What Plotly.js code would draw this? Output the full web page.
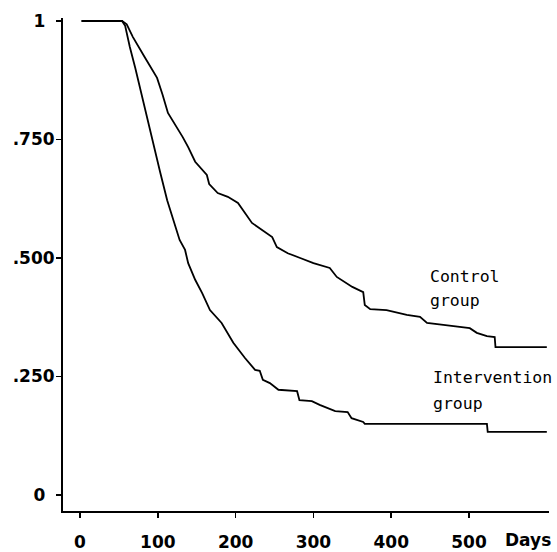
<!DOCTYPE html>
<html>
<head>
<meta charset="utf-8">
<script src="https://cdn.plot.ly/plotly-3.0.1.min.js"></script>
<style>html,body{margin:0;padding:0;background:#fff;}#chart{width:557px;height:552px;}</style>
</head>
<body>
<div id="chart"></div>
<script>
// Kaplan-Meier style curves (days, proportion)
var controlDays = [2, 54, 60, 68, 83, 99, 106, 113, 132, 139, 148, 163, 166, 177, 190, 203, 221, 240, 247, 253, 267, 283, 300, 321, 330, 350, 364, 366, 373, 394, 420, 437, 446, 467, 501, 510, 523, 533, 534, 600];
var controlVals = [1, 1, 0.993, 0.966, 0.924, 0.880, 0.845, 0.806, 0.755, 0.734, 0.703, 0.675, 0.656, 0.637, 0.629, 0.616, 0.574, 0.553, 0.544, 0.523, 0.510, 0.500, 0.489, 0.479, 0.460, 0.439, 0.428, 0.401, 0.392, 0.390, 0.380, 0.376, 0.363, 0.359, 0.352, 0.342, 0.335, 0.333, 0.312, 0.312];

var interventionDays = [2, 54, 58, 64, 71, 77, 84, 90, 96, 103, 112, 116, 128, 135, 139, 148, 157, 167, 182, 197, 212, 225, 231, 235, 244, 255, 279, 282, 298, 308, 328, 344, 349, 364, 366, 523, 524, 600];
var interventionVals = [1, 1, 0.990, 0.945, 0.901, 0.859, 0.812, 0.770, 0.724, 0.681, 0.622, 0.601, 0.538, 0.517, 0.489, 0.454, 0.426, 0.390, 0.363, 0.321, 0.289, 0.264, 0.262, 0.243, 0.236, 0.222, 0.219, 0.200, 0.198, 0.190, 0.177, 0.175, 0.162, 0.154, 0.150, 0.150, 0.133, 0.133];

var xTickVals = [0, 100, 200, 300, 400, 500];
var xTickText = ["0", "100", "200", "300", "400", "500"];
var yTickVals = [0, 0.25, 0.5, 0.75, 1];
var yTickText = ["0\u00a0\u2009", ".250", ".500", ".750", "1\u00a0\u2009"];

var lineStyle = {color: "#000", width: 1.8, shape: "linear"};
var traces = [
  {x: controlDays, y: controlVals, mode: "lines", line: lineStyle, name: "Control group", hoverinfo: "skip"},
  {x: interventionDays, y: interventionVals, mode: "lines", line: lineStyle, name: "Intervention group", hoverinfo: "skip"}
];

var tickFont = {family: "DejaVu Sans", size: 17, color: "#000", weight: "bold"};
var noteFont = {family: "DejaVu Sans Mono", size: 16.5, color: "#000"};

var layout = {
  width: 557, height: 552,
  margin: {l: 63, r: 8, t: 18, b: 41, pad: 0},
  paper_bgcolor: "#fff", plot_bgcolor: "#fff",
  showlegend: false,
  xaxis: {
    range: [-21.9, 602.8], showgrid: false, zeroline: false,
    showline: true, linecolor: "#000", linewidth: 2,
    ticks: "outside", ticklen: 5, tickwidth: 1.5, tickcolor: "#000",
    tickvals: xTickVals, ticktext: xTickText, tickfont: tickFont,
    ticklabelstandoff: 10, fixedrange: true
  },
  yaxis: {
    range: [-0.0338, 1.0063], showgrid: false, zeroline: false,
    showline: true, linecolor: "#000", linewidth: 2,
    ticks: "outside", ticklen: 5, tickwidth: 1.5, tickcolor: "#000",
    tickvals: yTickVals, ticktext: yTickText, tickfont: tickFont,
    ticklabelstandoff: -2, fixedrange: true
  },
  annotations: [
    {text: "Control", x: 447, y: 0.460, xref: "x", yref: "y", xanchor: "left", yanchor: "middle", showarrow: false, font: noteFont},
    {text: "group", x: 447, y: 0.411, xref: "x", yref: "y", xanchor: "left", yanchor: "middle", showarrow: false, font: noteFont},
    {text: "Intervention", x: 451, y: 0.247, xref: "x", yref: "y", xanchor: "left", yanchor: "middle", showarrow: false, font: noteFont},
    {text: "group", x: 451, y: 0.194, xref: "x", yref: "y", xanchor: "left", yanchor: "middle", showarrow: false, font: noteFont},
    {text: "Days", x: 576, y: -0.0588, xref: "x", yref: "paper", xanchor: "center", yanchor: "middle", showarrow: false, font: tickFont}
  ]
};

Plotly.newPlot("chart", traces, layout, {staticPlot: true, displayModeBar: false});
</script>
</body>
</html>
